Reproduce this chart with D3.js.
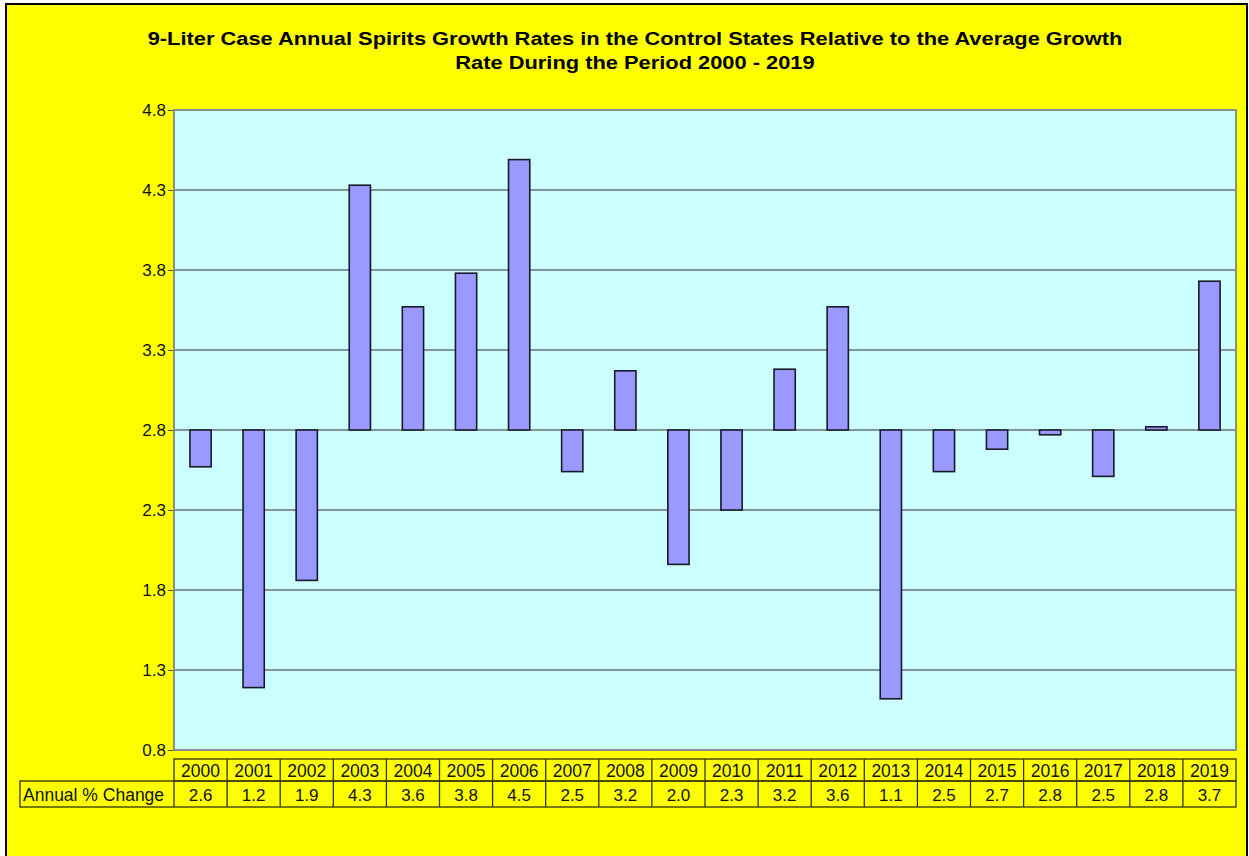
<!DOCTYPE html>
<html>
<head>
<meta charset="utf-8">
<script src="https://cdn.jsdelivr.net/npm/d3@7"></script>
<style>
  body { margin: 0; background: #fff; }
  text { font-family: "Liberation Sans", Arial, sans-serif; }
</style>
</head>
<body>
<div id="chart"></div>
<script>
// chart data
var years = ["2000","2001","2002","2003","2004","2005","2006","2007","2008","2009",
             "2010","2011","2012","2013","2014","2015","2016","2017","2018","2019"];
var growth = [2.57, 1.19, 1.86, 4.33, 3.57, 3.78, 4.49, 2.54, 3.17, 1.96,
              2.30, 3.18, 3.57, 1.12, 2.54, 2.68, 2.77, 2.51, 2.82, 3.73];
var average = 2.8;
var yTicks = [0.8, 1.3, 1.8, 2.3, 2.8, 3.3, 3.8, 4.3, 4.8];
var rowLabel = "Annual % Change";
var titleLines = ["9-Liter Case Annual Spirits Growth Rates in the Control States Relative to the Average Growth",
                  "Rate During the Period 2000 - 2019"];

var W = 1249, H = 856;
var plot = {left: 174, top: 110, right: 1236, bottom: 750};

var svg = d3.select("#chart").append("svg")
    .attr("width", W).attr("height", H);

// background + frame
svg.append("rect")
    .attr("x", 6).attr("y", 4).attr("width", W - 8).attr("height", H + 10)
    .attr("fill", "#ffff00").attr("stroke", "#000").attr("stroke-width", 2);

// title (source text looks a bit stretched sideways)
svg.append("g")
    .attr("transform", "translate(635,0) scale(1.15,1)")
  .append("text")
    .attr("y", 45)
    .attr("text-anchor", "middle")
    .style("font-size", "19px").style("font-weight", "bold")
    .selectAll("tspan").data(titleLines).enter().append("tspan")
    .attr("x", 0).attr("dy", function(d, i) { return i == 0 ? 0 : 24; })
    .text(function(d) { return d; });

var x = d3.scaleBand()
    .domain(years)
    .range([plot.left, plot.right])
    .paddingInner(0.6).paddingOuter(0.3);

var y = d3.scaleLinear()
    .domain([0.8, 4.8])
    .range([plot.bottom, plot.top]);

// plot area
svg.append("rect")
    .attr("x", plot.left).attr("y", plot.top)
    .attr("width", plot.right - plot.left).attr("height", plot.bottom - plot.top)
    .attr("fill", "#ccffff");

// grid lines
svg.append("g")
    .selectAll("line").data(yTicks.slice(1, -1)).enter().append("line")
    .attr("x1", plot.left).attr("x2", plot.right)
    .attr("y1", function(d) { return y(d); }).attr("y2", function(d) { return y(d); })
    .attr("stroke", "#6a7272").attr("stroke-width", 1.4);

// y axis
var yAxis = svg.append("g")
    .attr("transform", "translate(" + plot.left + ",0)")
    .call(d3.axisLeft(y).tickValues(yTicks).tickFormat(d3.format(".1f")).tickSize(6).tickPadding(2));
yAxis.select(".domain").remove();
yAxis.selectAll(".tick line").attr("stroke", "#555");
yAxis.selectAll(".tick text")
    .style("font-size", "17px").attr("fill", "#111")
    .style("font-family", "'Liberation Sans', Arial, sans-serif");

// bars, from the average line
svg.append("g")
    .selectAll("rect").data(growth).enter().append("rect")
    .attr("x", function(d, i) { return x(years[i]); })
    .attr("width", x.bandwidth())
    .attr("y", function(d) { return y(Math.max(d, average)); })
    .attr("height", function(d) { return Math.abs(y(d) - y(average)); })
    .attr("fill", "#9999ff")
    .attr("stroke", "#1a1a2a").attr("stroke-width", 1.6);

// plot border
svg.append("rect")
    .attr("x", plot.left).attr("y", plot.top)
    .attr("width", plot.right - plot.left).attr("height", plot.bottom - plot.top)
    .attr("fill", "none").attr("stroke", "#8a9090").attr("stroke-width", 2);

// data table
var tx = d3.scaleBand().domain(years).range([plot.left, plot.right]);
var row1 = {top: 759, bottom: 781};
var row2 = {top: 781, bottom: 807};
var labelLeft = 20;
var lineColor = "#333300";

var table = svg.append("g");
table.append("rect")
    .attr("x", plot.left).attr("y", row1.top)
    .attr("width", plot.right - plot.left).attr("height", row1.bottom - row1.top)
    .attr("fill", "none").attr("stroke", lineColor).attr("stroke-width", 1.3);
table.append("rect")
    .attr("x", labelLeft).attr("y", row2.top)
    .attr("width", plot.right - labelLeft).attr("height", row2.bottom - row2.top)
    .attr("fill", "none").attr("stroke", lineColor).attr("stroke-width", 1.3);
table.append("line")
    .attr("x1", plot.left).attr("x2", plot.left)
    .attr("y1", row2.top).attr("y2", row2.bottom)
    .attr("stroke", lineColor).attr("stroke-width", 1.3);
table.selectAll(".sep").data(years.slice(1)).enter().append("line")
    .attr("class", "sep")
    .attr("x1", function(d) { return tx(d); }).attr("x2", function(d) { return tx(d); })
    .attr("y1", row1.top).attr("y2", row2.bottom)
    .attr("stroke", lineColor).attr("stroke-width", 1.3);

table.selectAll(".yr").data(years).enter().append("text")
    .attr("class", "yr")
    .attr("x", function(d) { return tx(d) + tx.bandwidth() / 2; })
    .attr("y", row1.bottom - 4)
    .attr("text-anchor", "middle")
    .style("font-size", "17.5px").attr("fill", "#111")
    .text(function(d) { return d; });

table.selectAll(".val").data(growth).enter().append("text")
    .attr("class", "val")
    .attr("x", function(d, i) { return tx(years[i]) + tx.bandwidth() / 2; })
    .attr("y", row2.bottom - 6)
    .attr("text-anchor", "middle")
    .style("font-size", "17px").attr("fill", "#111")
    .text(function(d) { return d3.format(".1f")(d); });

table.append("text")
    .attr("x", labelLeft + 3).attr("y", row2.bottom - 6)
    .style("font-size", "17.5px").attr("fill", "#111")
    .text(rowLabel);
</script>
</body>
</html>
